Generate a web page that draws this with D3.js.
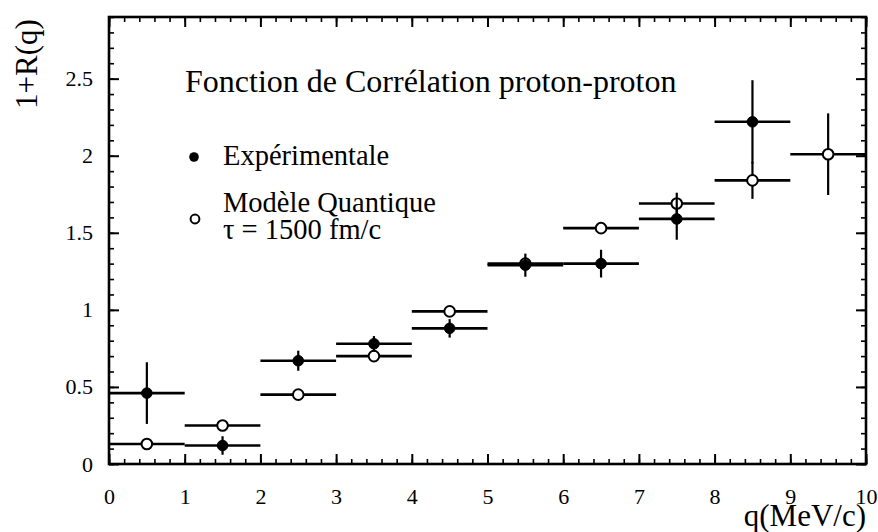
<!DOCTYPE html>
<html>
<head>
<meta charset="utf-8">
<script src="https://cdn.jsdelivr.net/npm/d3@7/dist/d3.min.js"></script>
<style>
  html, body { margin: 0; padding: 0; background: #fff; }
  svg { display: block; }
  text { font-family: "Liberation Serif", "Times New Roman", serif; fill: #000; }
</style>
</head>
<body>
<svg id="chart" width="878" height="532"></svg>
<script>
// Bin centres in q (MeV/c); each bin is 1 MeV/c wide
const qCentres = [0.5, 1.5, 2.5, 3.5, 4.5, 5.5, 6.5, 7.5, 8.5, 9.5];
const binHalfWidth = 0.5;

// Experimental correlation function 1+R(q) and its errors
const expValues = [0.46, 0.12, 0.67, 0.78, 0.88, 1.29, 1.30, 1.59, 2.22];
const expErrors = [0.20, 0.06, 0.065, 0.05, 0.06, 0.075, 0.09, 0.135, 0.27];

// Quantum model, tau = 1500 fm/c
const modelValues = [0.13, 0.25, 0.45, 0.70, 0.99, 1.30, 1.53, 1.69, 1.84, 2.01];
const modelErrors = [0, 0, 0, 0, 0, 0, 0, 0.07, 0.12, 0.265];

// Axis ticks
const xTicks = [0, 1, 2, 3, 4, 5, 6, 7, 8, 9, 10];
const xMinorTicks = d3.range(0, 10.001, 0.2).map(v => +v.toFixed(1));
const yTicks = [0, 0.5, 1, 1.5, 2, 2.5];
const yTickLabels = ["0", "0.5", "1", "1.5", "2", "2.5"];
const yMinorTicks = d3.range(0, 2.901, 0.1).map(v => +v.toFixed(1));

const titleText = "Fonction de Corrélation proton-proton";
const legendLabels = ["Expérimentale", "Modèle Quantique", "τ = 1500 fm/c"];

const svg = d3.select("#chart");
const frame = { left: 109, right: 866, top: 17, bottom: 464 };

const x = d3.scaleLinear().domain([0, 10]).range([frame.left, frame.right]);
const y = d3.scaleLinear().domain([0, 2.9]).range([frame.bottom, frame.top]);

// Minor ticks on all four sides, pointing inwards
function minorAxis(axis, tr) {
  svg.append("g").attr("transform", tr).call(axis)
    .call(g => g.select(".domain").remove())
    .call(g => g.selectAll("line").attr("stroke", "#000").attr("stroke-width", 1.6));
}
minorAxis(d3.axisBottom(x).tickValues(xMinorTicks).tickSize(-5).tickFormat(""), `translate(0,${frame.bottom})`);
minorAxis(d3.axisTop(x).tickValues(xMinorTicks).tickSize(-5).tickFormat(""), `translate(0,${frame.top})`);
minorAxis(d3.axisLeft(y).tickValues(yMinorTicks).tickSize(-5).tickFormat(""), `translate(${frame.left},0)`);
minorAxis(d3.axisRight(y).tickValues(yMinorTicks).tickSize(-5).tickFormat(""), `translate(${frame.right},0)`);

// Major ticks with labels
const xAxis = svg.append("g").attr("transform", `translate(0,${frame.bottom})`)
  .call(d3.axisBottom(x).tickValues(xTicks).tickSize(-10).tickPadding(24).tickFormat(d3.format("d")));
const xTop = svg.append("g").attr("transform", `translate(0,${frame.top})`)
  .call(d3.axisTop(x).tickValues(xTicks).tickSize(-10).tickFormat(""));
const yAxis = svg.append("g").attr("transform", `translate(${frame.left},0)`)
  .call(d3.axisLeft(y).tickValues(yTicks).tickSize(-10).tickPadding(16)
    .tickFormat((d, i) => yTickLabels[i]));
const yRight = svg.append("g").attr("transform", `translate(${frame.right},0)`)
  .call(d3.axisRight(y).tickValues(yTicks).tickSize(-10).tickFormat(""));

[xAxis, xTop, yAxis, yRight].forEach(g => {
  g.select(".domain").remove();
  g.selectAll("line").attr("stroke", "#000").attr("stroke-width", 2);
  g.selectAll("text").attr("font-family", "Liberation Serif, serif").attr("font-size", 22).attr("fill", "#000");
});

// Frame
svg.append("rect")
  .attr("x", frame.left).attr("y", frame.top)
  .attr("width", frame.right - frame.left).attr("height", frame.bottom - frame.top)
  .attr("fill", "none").attr("stroke", "#000").attr("stroke-width", 2.6);

// Axis titles
svg.append("text")
  .attr("transform", `translate(37,64) rotate(-90)`)
  .attr("text-anchor", "middle")
  .attr("font-size", 31)
  .text("1+R(q)");
svg.append("text")
  .attr("x", frame.right).attr("y", 526)
  .attr("text-anchor", "end")
  .attr("font-size", 31)
  .text("q(MeV/c)");

// Plot title inside the frame
svg.append("text").attr("x", 185).attr("y", 92).attr("font-size", 32).text(titleText);

// Legend
svg.append("circle").attr("cx", 194).attr("cy", 157).attr("r", 4.8).attr("fill", "#000");
svg.append("text").attr("x", 223).attr("y", 165).attr("font-size", 28.5).text(legendLabels[0]);
svg.append("circle").attr("cx", 195).attr("cy", 219).attr("r", 4.4)
  .attr("fill", "#fff").attr("stroke", "#000").attr("stroke-width", 2);
svg.append("text").attr("x", 223).attr("y", 212).attr("font-size", 28.5).text(legendLabels[1]);
svg.append("text").attr("x", 223).attr("y", 239).attr("font-size", 28.5).text(legendLabels[2]);

// Error-bar series
function drawSeries(values, errors, filled) {
  const data = values.map((v, i) => ({ q: qCentres[i], v, e: errors[i] }));
  const g = svg.append("g");
  g.selectAll("line.h").data(data).join("line").attr("class", "h")
    .attr("x1", d => x(d.q - binHalfWidth)).attr("x2", d => x(d.q + binHalfWidth))
    .attr("y1", d => y(d.v)).attr("y2", d => y(d.v))
    .attr("stroke", "#000").attr("stroke-width", 2.6);
  g.selectAll("line.v").data(data.filter(d => d.e > 0)).join("line").attr("class", "v")
    .attr("x1", d => x(d.q)).attr("x2", d => x(d.q))
    .attr("y1", d => y(d.v - d.e)).attr("y2", d => y(d.v + d.e))
    .attr("stroke", "#000").attr("stroke-width", 2.2);
  g.selectAll("circle").data(data).join("circle")
    .attr("cx", d => x(d.q)).attr("cy", d => y(d.v))
    .attr("r", 5.3)
    .attr("fill", filled ? "#000" : "#fff")
    .attr("stroke", "#000").attr("stroke-width", filled ? 1 : 2);
}
drawSeries(modelValues, modelErrors, false);
drawSeries(expValues, expErrors, true);
</script>
</body>
</html>
